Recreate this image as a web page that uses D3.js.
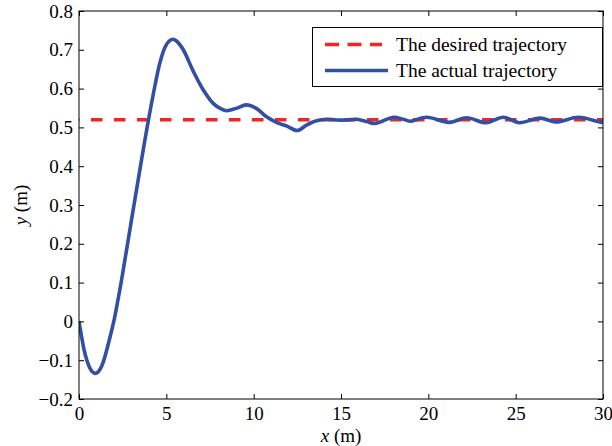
<!DOCTYPE html>
<html>
<head>
<meta charset="utf-8">
<script src="https://cdn.jsdelivr.net/npm/d3@7"></script>
<style>
  html, body { margin: 0; padding: 0; background: #fff; }
  svg { display: block; }
  text { font-family: "Liberation Serif", "Times New Roman", serif; fill: #000; }
</style>
</head>
<body>
<svg id="chart" width="612" height="446"></svg>
<script>
// Reference (desired) trajectory height, m
const desiredY = 0.52;

// Actual trajectory samples: x (m) and y (m)
const actualX = [0, 0.15, 0.3, 0.45, 0.6, 0.75, 0.92, 1.1, 1.25, 1.4, 1.55, 1.7, 1.85,
  2.03, 2.2, 2.4, 3.0, 3.5, 3.9, 4.35, 4.64, 4.92, 5.15, 5.36, 5.6, 5.97, 6.54, 7.11,
  7.68, 8.16, 8.44, 9.0, 9.58, 10.15, 10.72, 11.3, 11.87, 12.5, 13.03, 13.6, 14.18,
  14.75, 15.32, 15.9, 16.47, 16.94, 17.42, 18.0, 18.57, 18.95, 19.9, 21.2, 22.2, 23.3,
  24.3, 25.2, 26.4, 27.3, 28.6, 29.9, 30];
const actualY = [0, -0.04, -0.075, -0.10, -0.118, -0.129, -0.134, -0.130, -0.12, -0.103,
  -0.08, -0.054, -0.027, 0.008, 0.048, 0.097, 0.26, 0.395, 0.50, 0.608, 0.668, 0.706,
  0.722, 0.727, 0.722, 0.700, 0.645, 0.597, 0.562, 0.547, 0.543, 0.549, 0.558, 0.549,
  0.528, 0.513, 0.504, 0.492, 0.506, 0.517, 0.521, 0.519, 0.519, 0.521, 0.515, 0.510,
  0.517, 0.526, 0.521, 0.516, 0.526, 0.513, 0.525, 0.512, 0.526, 0.512, 0.524, 0.514,
  0.526, 0.513, 0.514];

const xTicks = [0, 5, 10, 15, 20, 25, 30];
const yTicks = [-0.2, -0.1, 0, 0.1, 0.2, 0.3, 0.4, 0.5, 0.6, 0.7, 0.8];

const legendLabels = ["The desired trajectory", "The actual trajectory"];

const margin = { left: 79, top: 11, right: 9, bottom: 47 };
const W = 612, H = 446;
const svg = d3.select("#chart");

const x = d3.scaleLinear().domain([0, 30]).range([margin.left, W - margin.right]);
const y = d3.scaleLinear().domain([-0.2, 0.8]).range([H - margin.bottom, margin.top]);

const red = "#ee2626";
const blue = "#3150a3";
const fmt = v => (Math.abs(v) < 1e-9 ? "0" : d3.format(".1f")(v).replace("-", "\u2212"));

// Plot clip
svg.append("clipPath").attr("id", "plotClip")
  .append("rect")
  .attr("x", x(0)).attr("y", y(0.8))
  .attr("width", x(30) - x(0)).attr("height", y(-0.2) - y(0.8));

const plot = svg.append("g").attr("clip-path", "url(#plotClip)");

// Desired trajectory (dashed)
plot.append("line")
  .attr("x1", x(0)).attr("x2", x(30))
  .attr("y1", y(desiredY)).attr("y2", y(desiredY))
  .attr("stroke", red).attr("stroke-width", 3.5)
  .attr("stroke-dasharray", "11.5,11.5")
  .attr("stroke-dashoffset", 11);

// Actual trajectory
const pts = actualX.map((d, i) => [d, actualY[i]]);
plot.append("path")
  .datum(pts)
  .attr("fill", "none")
  .attr("stroke", blue)
  .attr("stroke-width", 3.6)
  .attr("stroke-linejoin", "round")
  .attr("d", d3.line().x(d => x(d[0])).y(d => y(d[1])).curve(d3.curveCatmullRom.alpha(0.5)));

// Axes (inward ticks, boxed)
const tickLen = 5;
const axisStyle = g => {
  g.select(".domain").remove();
  g.selectAll("line").attr("stroke", "#000");
  g.selectAll("text").style("font-size", "19px");
};

svg.append("g")
  .attr("transform", `translate(0,${y(-0.2)})`)
  .call(d3.axisBottom(x).tickValues(xTicks).tickSize(-tickLen).tickPadding(8).tickFormat(d3.format("d")))
  .call(axisStyle)
  .call(g => g.selectAll("text").attr("dy", "0.71em"));

svg.append("g")
  .attr("transform", `translate(0,${y(0.8)})`)
  .call(d3.axisTop(x).tickValues(xTicks).tickSize(-tickLen).tickFormat(""))
  .call(axisStyle);

svg.append("g")
  .attr("transform", `translate(${x(0)},0)`)
  .call(d3.axisLeft(y).tickValues(yTicks).tickSize(-tickLen).tickPadding(6).tickFormat(fmt))
  .call(axisStyle);

svg.append("g")
  .attr("transform", `translate(${x(30)},0)`)
  .call(d3.axisRight(y).tickValues(yTicks).tickSize(-tickLen).tickFormat(""))
  .call(axisStyle);

svg.append("rect")
  .attr("x", x(0)).attr("y", y(0.8))
  .attr("width", x(30) - x(0)).attr("height", y(-0.2) - y(0.8))
  .attr("fill", "none").attr("stroke", "#000").attr("stroke-width", 1);

// Axis titles
const xt = svg.append("text")
  .attr("x", (x(0) + x(30)) / 2).attr("y", 442)
  .attr("text-anchor", "middle").style("font-size", "19px");
xt.append("tspan").style("font-style", "italic").text("x");
xt.append("tspan").text(" (m)");

const yt = svg.append("text")
  .attr("transform", `translate(27,${(y(0.8) + y(-0.2)) / 2}) rotate(-90)`)
  .attr("text-anchor", "middle").style("font-size", "19px");
yt.append("tspan").style("font-style", "italic").text("y");
yt.append("tspan").text(" (m)");

// Legend
const lg = svg.append("g");
lg.append("rect")
  .attr("x", 312.5).attr("y", 27.5).attr("width", 290).attr("height", 59)
  .attr("fill", "#fff").attr("stroke", "#000").attr("stroke-width", 1);
lg.append("line")
  .attr("x1", 325).attr("x2", 382).attr("y1", 44.5).attr("y2", 44.5)
  .attr("stroke", red).attr("stroke-width", 3.5).attr("stroke-dasharray", "14,8.5");
lg.append("line")
  .attr("x1", 325).attr("x2", 388).attr("y1", 70.5).attr("y2", 70.5)
  .attr("stroke", blue).attr("stroke-width", 3.6);
lg.selectAll("text.lab").data(legendLabels).join("text")
  .attr("class", "lab")
  .attr("x", 396).attr("y", (d, i) => 51 + i * 26)
  .style("font-size", "19.5px")
  .text(d => d);
</script>
</body>
</html>
